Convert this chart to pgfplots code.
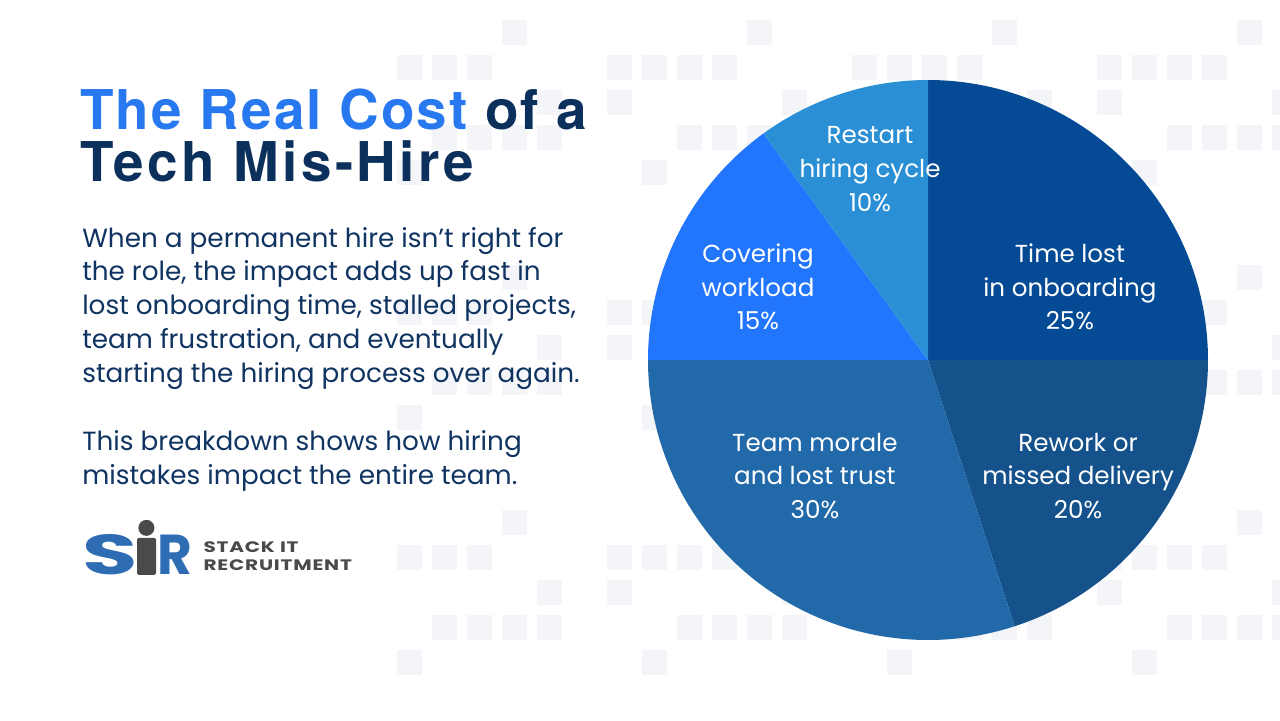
\documentclass[border=0pt]{standalone}
\usepackage{pgfplots}
\pgfplotsset{compat=1.18}
\usepackage{fontspec}
\setmainfont{Poppins}
\newfontfamily\titlefont[LetterSpace=4]{TeX Gyre Heros}
\newfontfamily\titlefontb[LetterSpace=6.3]{TeX Gyre Heros}
\newfontfamily\logofont[LetterSpace=4]{Poppins}
\definecolor{navy}{HTML}{0C305C}
\definecolor{bodynavy}{HTML}{103462}
\definecolor{brightblue}{HTML}{2878F0}
\definecolor{sA}{HTML}{044A94}
\definecolor{sB}{HTML}{15528C}
\definecolor{sC}{HTML}{2169A8}
\definecolor{sD}{HTML}{2276FE}
\definecolor{sE}{HTML}{2A8FD4}
\definecolor{sq}{HTML}{F4F5F8}
\definecolor{logoblue}{HTML}{2E6DB4}
\definecolor{logogray}{HTML}{4A4A4A}

% shares of the cost (percent), clockwise from 12 o'clock
\def\vA{25}\def\vB{20}\def\vC{30}\def\vD{15}\def\vE{10}

\begin{document}
\begin{tikzpicture}[x=1cm,y=1cm]
\useasboundingbox (0,0) rectangle (32,18);
\fill[white] (0,0) rectangle (32,18);
% faint background squares
\begin{scope}
\clip (0,0) rectangle (32,18);
\foreach \i in {0,...,36}{
  \foreach \j in {0,...,20}{
    \pgfmathtruncatemacro\k{mod(\i*\i*3+\j*5+\i*\j,7)}
    \pgfmathsetmacro\xx{0.3+\i*0.875}
    \pgfmathsetmacro\yy{17.5-\j*0.875}
    \ifnum\k<2
      \pgfmathtruncatemacro\ok{(\xx>9.3)}
      \ifnum\ok=1
        \fill[sq] (\xx,\yy) rectangle ++(0.62,-0.62);
      \fi
    \fi
  }
}
\end{scope}

% title
\node[anchor=base west, inner sep=0, font=\titlefont\bfseries\fontsize{39}{46}\selectfont]
  at (2.0,{18-130*0.025}) {\textcolor{brightblue}{The Real Cost} \textcolor{navy}{of a}};
\node[anchor=base west, inner sep=0, font=\titlefontb\bfseries\fontsize{39}{46}\selectfont, text=navy]
  at (2.0,{18-182*0.025}) {Tech Mis-Hire};

% body text
\foreach \t/\b in {{When a permanent hire isn’t right for}/248,
                   {the role, the impact adds up fast in}/281,
                   {lost onboarding time, stalled projects,}/315,
                   {team frustration, and eventually}/349,
                   {starting the hiring process over again.}/383,
                   {This breakdown shows how hiring}/451,
                   {mistakes impact the entire team.}/485}{
  \node[anchor=base west, inner sep=0, text=bodynavy, font=\fontsize{18.7}{24}\selectfont]
    at (2.05,{18-\b*0.025}) {\t};
}

% logo
\node[anchor=base west, inner sep=0, text=logoblue, xscale=1.6, font=\bfseries\fontsize{40}{40}\selectfont]
  at (2.05,{18-575*0.025}) {S};
\node[anchor=base west, inner sep=0, text=logoblue, xscale=0.95, font=\bfseries\fontsize{40}{40}\selectfont]
  at (3.93,{18-575*0.025}) {R};
\fill[logogray] (3.66,{18-528*0.025}) circle (0.2);
\fill[logogray, rounded corners=1pt] (3.43,{18-538*0.025}) rectangle (3.90,{18-575*0.025});
\node[anchor=south west, inner sep=0, align=left, text=logogray, xscale=1.32,
  font=\logofont\bfseries\fontsize{10.8}{12.8}\selectfont]
  at (5.08,{18-571*0.025}) {STACK IT\\RECRUITMENT};

% pie
\pgfmathsetmacro\aA{90}
\pgfmathsetmacro\aB{\aA-\vA*3.6}
\pgfmathsetmacro\aC{\aB-\vB*3.6}
\pgfmathsetmacro\aD{\aC-\vC*3.6}
\pgfmathsetmacro\aE{\aD-\vD*3.6}
\pgfmathsetmacro\aF{\aE-\vE*3.6}
\begin{axis}[at={(23.2cm,9cm)}, anchor=center, hide axis, scale only axis,
  x=7cm, y=7cm, xmin=-1, xmax=1, ymin=-1, ymax=1, clip=false]
\fill[sA] (axis cs:0,0) -- (axis cs:{cos(\aA)},{sin(\aA)}) arc[start angle=\aA, end angle=\aB, radius=7cm] -- cycle;
\fill[sB] (axis cs:0,0) -- (axis cs:{cos(\aB)},{sin(\aB)}) arc[start angle=\aB, end angle=\aC, radius=7cm] -- cycle;
\fill[sC] (axis cs:0,0) -- (axis cs:{cos(\aC)},{sin(\aC)}) arc[start angle=\aC, end angle=\aD, radius=7cm] -- cycle;
\fill[sD] (axis cs:0,0) -- (axis cs:{cos(\aD)},{sin(\aD)}) arc[start angle=\aD, end angle=\aE, radius=7cm] -- cycle;
\fill[sE] (axis cs:0,0) -- (axis cs:{cos(\aE)},{sin(\aE)}) arc[start angle=\aE, end angle=\aF, radius=7cm] -- cycle;
\tikzset{lbl/.style={align=center, text=white, inner sep=0, font=\fontsize{17.5}{24}\selectfont}}
\node[lbl] at (axis cs:0.507,0.261) {Time lost\\in onboarding\\\vA\%};
\node[lbl] at (axis cs:0.536,-0.414) {Rework or\\missed delivery\\\vB\%};
\node[lbl] at (axis cs:-0.404,-0.414) {Team morale\\and lost trust\\\vC\%};
\node[lbl] at (axis cs:-0.607,0.261) {Covering\\workload\\\vD\%};
\node[lbl] at (axis cs:-0.207,0.682) {Restart\\hiring cycle\\\vE\%};
\end{axis}
\end{tikzpicture}
\end{document}
